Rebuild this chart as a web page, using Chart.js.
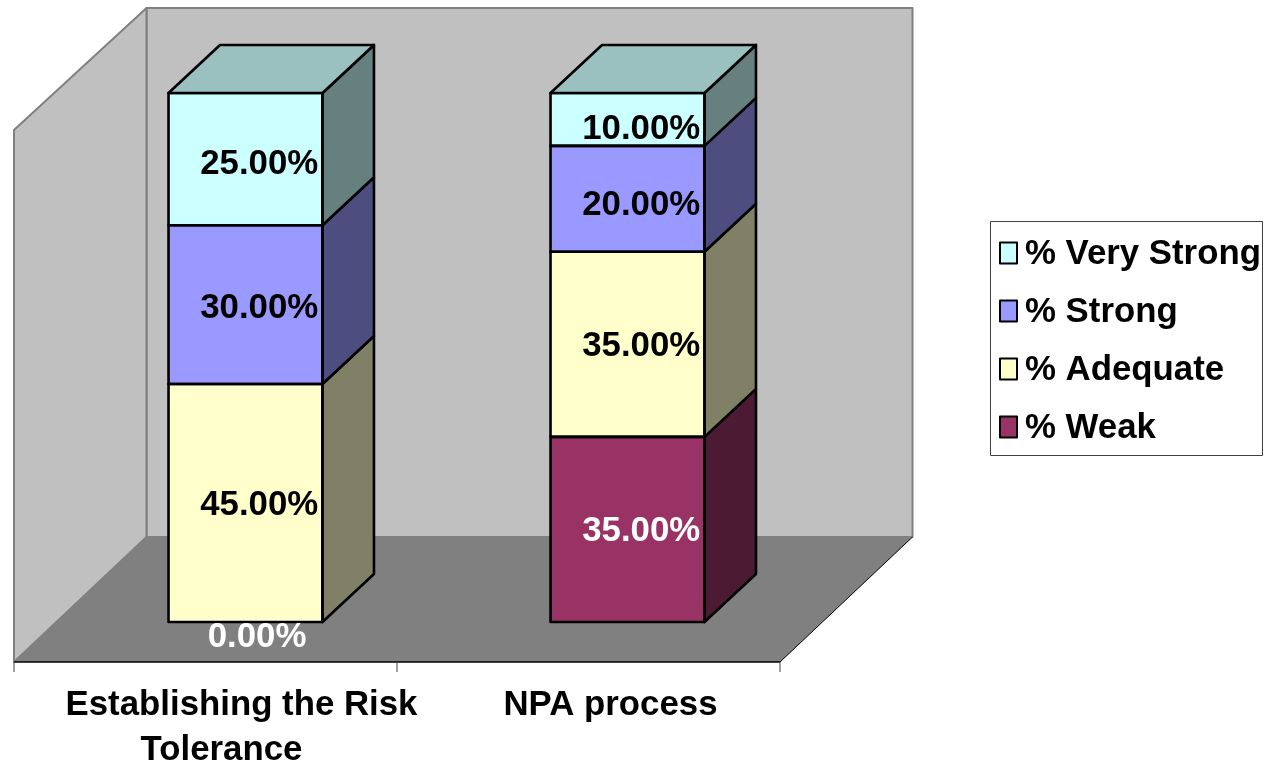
<!DOCTYPE html>
<html>
<head>
<meta charset="utf-8">
<title>Risk tolerance and NPA process ratings</title>
<script src="https://cdn.jsdelivr.net/npm/chart.js@4/dist/chart.umd.min.js"></script>
<style>
  html, body { margin: 0; padding: 0; background: #fff; }
  canvas { display: block; }
</style>
</head>
<body>
<canvas id="ratingsChart" width="1265" height="762"></canvas>
<script>
// DATA

const categories = [['Establishing the Risk', 'Tolerance'], ['NPA process']];
const weak = [0, 35];
const adequate = [45, 35];
const strong = [30, 20];
const veryStrong = [25, 10];

const FONT = 'Arial, "Liberation Sans", sans-serif';
const TEXT_SIZE = '34.8px ';

// box depth: whole floor, and one bar
const floorDepth = { x: 132.5, y: -125 };
const barDepth = { x: 51.5, y: -48 };
// bars stand this far behind the front edge of the floor
const barInset = { x: 40.5, y: 40 };

const series = [
    {label: '% Weak', data: weak, color: '#993366', side: '#4D1A33', labelColor: '#FFFFFF'},
    {label: '% Adequate', data: adequate, color: '#FFFFCC', side: '#808066', labelColor: '#000000'},
    {label: '% Strong', data: strong, color: '#9999FF', side: '#4D4D80', labelColor: '#000000'},
    {label: '% Very Strong', data: veryStrong, color: '#CCFFFF', side: '#668080', labelColor: '#000000'}
];
const topColor = '#9BC0C0';

function polygon(ctx, pts, fill, stroke, lineWidth) {
    ctx.beginPath();
    pts.forEach(function(p, i) {
        if (i === 0) ctx.moveTo(p[0], p[1]); else ctx.lineTo(p[0], p[1]);
    });
    ctx.closePath();
    if (fill) { ctx.fillStyle = fill; ctx.fill(); }
    if (stroke) {
        ctx.strokeStyle = stroke;
        ctx.lineWidth = lineWidth;
        ctx.lineJoin = 'round';
        ctx.stroke();
    }
}

// walls, floor and the front axis line
const roomPlugin = {
    id: 'room',
    beforeDatasetsDraw: function(chart) {
        const ctx = chart.ctx;
        const x = chart.scales.x, y = chart.scales.y;
        const left = x.left - barInset.x, right = x.right - barInset.x + 2;
        const bottom = y.getPixelForValue(0) + barInset.y;
        const top = y.getPixelForValue(100) + barInset.y;
        const dx = floorDepth.x, dy = floorDepth.y;

        polygon(ctx, [[left + dx, top + dy], [right + dx, top + dy], [right + dx, bottom + dy], [left + dx, bottom + dy]], '#C0C0C0', '#808080', 2);
        polygon(ctx, [[left, top - 3], [left + dx, top + dy], [left + dx, bottom + dy], [left, bottom]], '#C0C0C0', '#808080', 2);
        polygon(ctx, [[left, bottom], [right, bottom], [right + dx, bottom + dy], [left + dx, bottom + dy]], '#808080');

        ctx.strokeStyle = '#000000';
        ctx.lineWidth = 1;
        ctx.beginPath();
        ctx.moveTo(right, bottom);
        ctx.lineTo(right + dx, bottom + dy);
        ctx.stroke();
        ctx.lineWidth = 1.5;
        ctx.beginPath();
        ctx.moveTo(left, bottom);
        ctx.lineTo(right, bottom);
        ctx.stroke();

        // category tick marks
        ctx.lineWidth = 1;
        ctx.strokeStyle = '#404040';
        const step = (right - left) / categories.length;
        for (let i = 0; i <= categories.length; i++) {
            ctx.beginPath();
            ctx.moveTo(left + step * i, bottom);
            ctx.lineTo(left + step * i, bottom + 10);
            ctx.stroke();
        }
    }
};

// outline, side and top faces of each stacked box, then the value labels
const boxPlugin = {
    id: 'boxes',
    afterDatasetsDraw: function(chart) {
        const ctx = chart.ctx;
        const dx = barDepth.x, dy = barDepth.y;
        const edge = 2.6;

        series.forEach(function(s, d) {
            chart.getDatasetMeta(d).data.forEach(function(bar, i) {
                if (s.data[i] === 0) return;
                const r = bar.x + bar.width / 2, l = bar.x - bar.width / 2;
                polygon(ctx, [[r, bar.y], [r + dx, bar.y + dy], [r + dx, bar.base + dy], [r, bar.base]], s.side, '#000000', edge);
                polygon(ctx, [[l, bar.y], [r, bar.y], [r, bar.base], [l, bar.base]], null, '#000000', edge);
                if (d === series.length - 1) {
                    polygon(ctx, [[l, bar.y], [l + dx, bar.y + dy], [r + dx, bar.y + dy], [r, bar.y]], topColor, '#000000', edge);
                }
            });
        });

        ctx.font = 'bold ' + TEXT_SIZE + FONT;
        ctx.textAlign = 'center';
        ctx.textBaseline = 'middle';
        series.forEach(function(s, d) {
            chart.getDatasetMeta(d).data.forEach(function(bar, i) {
                const v = s.data[i];
                // thin segments carry their label a little lower
                const drop = v === 0 ? 13 : Math.max(0, (35 - v) * 0.32);
                const across = v === 0 ? 11.5 : 13.7;
                ctx.fillStyle = s.labelColor;
                ctx.fillText(v.toFixed(2) + '%', bar.x + across, (bar.y + bar.base) / 2 + drop + 2);
            });
        });
    }
};

// category names under the floor
const categoryPlugin = {
    id: 'categoryNames',
    afterDraw: function(chart) {
        const ctx = chart.ctx;
        const shift = [[-4, -24], [-17]];
        const bottom = chart.scales.y.getPixelForValue(0);
        ctx.font = 'bold ' + TEXT_SIZE + FONT;
        ctx.fillStyle = '#000000';
        ctx.textAlign = 'center';
        ctx.textBaseline = 'middle';
        categories.forEach(function(lines, i) {
            const cx = chart.scales.x.getPixelForTick(i);
            lines.forEach(function(line, n) {
                ctx.fillText(line, cx + shift[i][n], bottom + 83 + n * 45);
            });
        });
    }
};

// legend box to the right, top series first
const legendPlugin = {
    id: 'sideLegend',
    afterDraw: function(chart) {
        const ctx = chart.ctx;
        ctx.strokeStyle = '#404040';
        ctx.lineWidth = 1;
        ctx.strokeRect(990.5, 221.5, 272, 234);
        ctx.font = 'bold ' + TEXT_SIZE + FONT;
        ctx.textAlign = 'left';
        ctx.textBaseline = 'middle';
        series.slice().reverse().forEach(function(s, i) {
            const rowY = 253 + i * 58;
            ctx.fillStyle = s.color;
            ctx.fillRect(1000, rowY - 10.5, 17, 21);
            ctx.strokeStyle = '#000000';
            ctx.lineWidth = 2;
            ctx.strokeRect(1000, rowY - 10.5, 17, 21);
            ctx.fillStyle = '#000000';
            ctx.fillText(s.label, 1025, rowY + 1);
        });
    }
};

let ctx_bars = document.getElementById('ratingsChart').getContext('2d');

let ratingsChart = new Chart(ctx_bars, {
    type: 'bar',
    data: {
        labels: categories,
        datasets: series.map(function(s) {
            return {
                label: s.label,
                data: s.data,
                backgroundColor: s.color,
                borderWidth: 0,
                categoryPercentage: 1,
                barPercentage: 0.403
            };
        })
    },
    options: {
        responsive: false,
        animation: false,
        layout: {padding: {left: 54.5, right: 446.5, top: 93, bottom: 140}},
        plugins: {legend: {display: false}, tooltip: {enabled: false}, title: {display: false}},
        scales: {
            x: {stacked: true, display: false},
            y: {stacked: true, display: false, min: 0, max: 100}
        }
    },
    plugins: [roomPlugin, boxPlugin, categoryPlugin, legendPlugin]
});
</script>
</body>
</html>
